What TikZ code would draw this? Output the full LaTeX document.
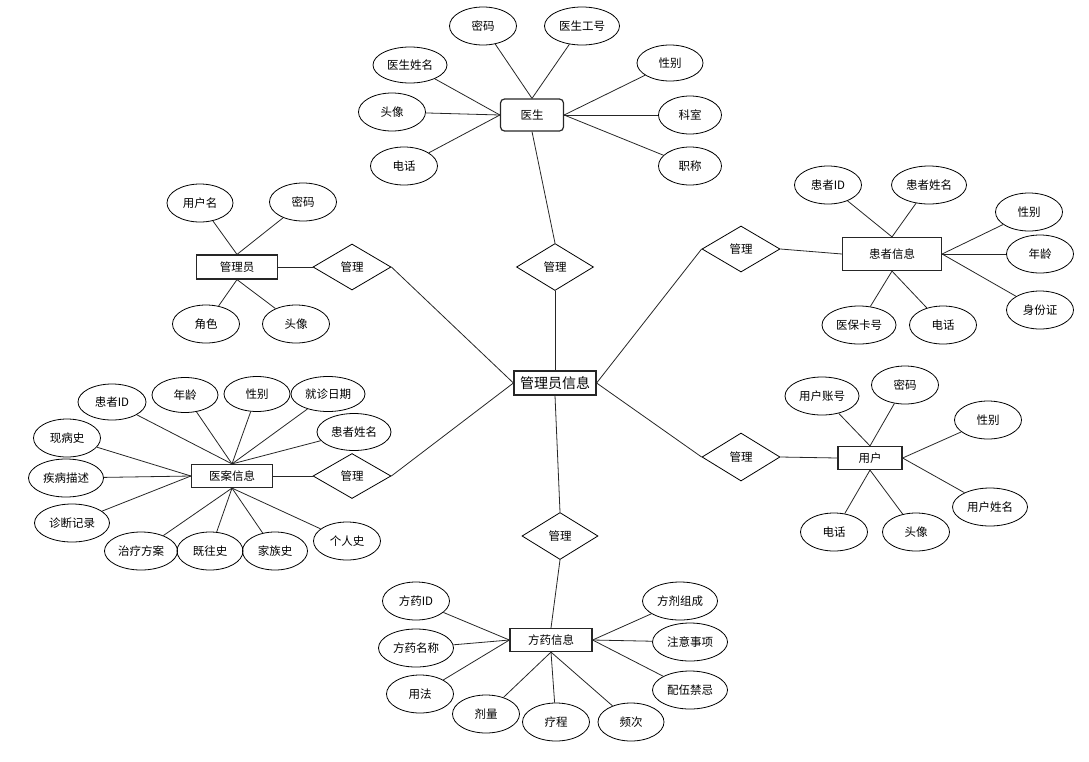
\documentclass[tikz,border=0pt]{standalone}
\usepackage{fontspec}
\setmainfont{Noto Sans CJK SC}
\usetikzlibrary{shapes.geometric}
\tikzset{
  attr/.style={draw, ellipse, line width=0.8pt, inner sep=0pt, minimum width=67pt, minimum height=38pt, font=\fontsize{11.5}{13}\selectfont},
  wattr/.style={attr, minimum width=75pt},
  entity/.style={draw=black!85, line width=1.2pt, inner sep=0pt, minimum width=81pt, minimum height=24pt, font=\fontsize{11.5}{13}\selectfont},
  rel/.style={draw, line width=0.8pt, diamond, inner sep=0pt, minimum width=78pt, minimum height=47pt, font=\fontsize{11.5}{13}\selectfont},
  link/.style={draw, line width=0.8pt, black!85}
}

\begin{document}
\begin{tikzpicture}[x=1pt, y=-1pt]
  \useasboundingbox (0,0) rectangle (1089,761);

  % centre
  \node[entity, minimum width=82pt, font=\fontsize{14}{16}\selectfont] (info) at (555,383) {管理员信息};

  % doctor
  \node[entity, rounded corners=4pt, minimum width=63pt, minimum height=32pt] (doc) at (532,115) {医生};
  \node[attr] (docpwd) at (483,26) {密码};
  \node[wattr] (docid) at (582,26) {医生工号};
  \node[wattr, minimum width=74pt, minimum height=36pt] (docname) at (410,65) {医生姓名};
  \node[attr] (docava) at (392,112) {头像};
  \node[attr] (doctel) at (404,166) {电话};
  \node[attr, minimum width=66pt, minimum height=36pt] (docsex) at (670,63) {性别};
  \node[attr, minimum width=63pt] (docdept) at (690,115) {科室};
  \node[attr, minimum width=63pt] (doctitle) at (690,166) {职称};
  \node[rel, minimum width=77pt] (reldoc) at (555,267) {管理};

  % admin
  \node[entity] (adm) at (237,267) {管理员};
  \node[attr, minimum width=66pt] (admuser) at (200,203) {用户名};
  \node[attr] (admpwd) at (303,202) {密码};
  \node[attr] (admrole) at (206,324) {角色};
  \node[attr] (admava) at (296,324) {头像};
  \node[rel, minimum height=46pt] (reladm) at (352,267) {管理};

  % patient
  \node[entity, minimum width=99pt, minimum height=33pt] (pat) at (892,254) {患者信息};
  \node[attr] (patid) at (828,185) {患者ID};
  \node[wattr] (patname) at (929,185) {患者姓名};
  \node[attr] (patsex) at (1029,212) {性别};
  \node[attr] (patage) at (1040,254) {年龄};
  \node[attr] (patcard) at (1040,310) {身份证};
  \node[wattr, minimum width=74pt] (patins) at (859,325) {医保卡号};
  \node[attr] (pattel) at (943,325) {电话};
  \node[rel, minimum height=46pt] (relpat) at (741,249) {管理};

  % user
  \node[entity, minimum width=64pt, minimum height=23pt] (usr) at (870,458) {用户};
  \node[wattr, minimum width=74pt] (usracc) at (822,396) {用户账号};
  \node[attr] (usrpwd) at (905,385) {密码};
  \node[attr] (usrsex) at (988,420) {性别};
  \node[wattr] (usrname) at (990,507) {用户姓名};
  \node[attr] (usrtel) at (834,532) {电话};
  \node[attr] (usrava) at (916,532) {头像};
  \node[rel, minimum height=48pt] (relusr) at (741,457) {管理};

  % medical record
  \node[entity, minimum height=23pt] (rec) at (232,476) {医案信息};
  \node[attr, minimum width=68pt, minimum height=36pt] (recid) at (112,402) {患者ID};
  \node[attr, minimum width=66pt, minimum height=35pt] (recage) at (185,395) {年龄};
  \node[attr, minimum width=66pt, minimum height=35pt] (recsex) at (257,394) {性别};
  \node[wattr, minimum width=74pt, minimum height=35pt] (recdate) at (328,394) {就诊日期};
  \node[wattr, minimum width=74pt, minimum height=37pt] (recname) at (354,432) {患者姓名};
  \node[attr] (recnow) at (67,438) {现病史};
  \node[wattr] (recdesc) at (66,478) {疾病描述};
  \node[wattr] (recdiag) at (72,523) {诊断记录};
  \node[wattr, minimum width=73pt] (rectreat) at (141,551) {治疗方案};
  \node[attr, minimum width=66pt] (recpast) at (210,551) {既往史};
  \node[attr, minimum width=65pt] (recfam) at (275,551) {家族史};
  \node[attr] (recself) at (347,541) {个人史};
  \node[rel, minimum height=45pt] (relrec) at (352,476) {管理};

  % prescription
  \node[entity, minimum width=82pt, minimum height=23pt] (med) at (551,640) {方药信息};
  \node[attr] (medid) at (416,601) {方药ID};
  \node[wattr] (medname) at (416,648) {方药名称};
  \node[attr] (meduse) at (420,694) {用法};
  \node[attr] (meddose) at (486,714) {剂量};
  \node[attr] (medcourse) at (556,722) {疗程};
  \node[attr, minimum width=66pt] (medfreq) at (631,722) {频次};
  \node[wattr] (medcomp) at (680,601) {方剂组成};
  \node[wattr] (mednote) at (690,642) {注意事项};
  \node[wattr] (medtaboo) at (690,690) {配伍禁忌};
  \node[rel, minimum width=76pt] (relmed) at (560,536) {管理};

  % attributes
  \foreach \a in {docpwd,docid} \draw[link] (\a) -- (doc.north);
  \foreach \a in {docname,docava,doctel} \draw[link] (\a) -- (doc.west);
  \foreach \a in {docsex,docdept,doctitle} \draw[link] (\a) -- (doc.east);
  \foreach \a in {admuser,admpwd} \draw[link] (\a) -- (adm.north);
  \foreach \a in {admrole,admava} \draw[link] (\a) -- (adm.south);
  \foreach \a in {patid,patname} \draw[link] (\a) -- (pat.north);
  \foreach \a in {patsex,patage,patcard} \draw[link] (\a) -- (pat.east);
  \foreach \a in {patins,pattel} \draw[link] (\a) -- (pat.south);
  \foreach \a in {usracc,usrpwd} \draw[link] (\a) -- (usr.north);
  \foreach \a in {usrsex,usrname} \draw[link] (\a) -- (usr.east);
  \foreach \a in {usrtel,usrava} \draw[link] (\a) -- (usr.south);
  \foreach \a in {recid,recage,recsex,recdate,recname} \draw[link] (\a) -- (rec.north);
  \foreach \a in {recnow,recdesc,recdiag} \draw[link] (\a) -- (rec.west);
  \foreach \a in {rectreat,recpast,recfam,recself} \draw[link] (\a) -- (rec.south);
  \foreach \a in {medid,medname,meduse} \draw[link] (\a) -- (med.west);
  \foreach \a in {meddose,medcourse,medfreq} \draw[link] (\a) -- (med.south);
  \foreach \a in {medcomp,mednote,medtaboo} \draw[link] (\a) -- (med.east);

  % relations
  \draw[link] (doc.south) -- (reldoc.north);
  \draw[link] (reldoc.south) -- (info.north);
  \draw[link] (adm.east) -- (reladm.west);
  \draw[link] (reladm.east) -- (info.west);
  \draw[link] (rec.east) -- (relrec.west);
  \draw[link] (relrec.east) -- (info.west);
  \draw[link] (info.east) -- (relpat.west);
  \draw[link] (relpat.east) -- (pat.west);
  \draw[link] (info.east) -- (relusr.west);
  \draw[link] (relusr.east) -- (usr.west);
  \draw[link] (info.south) -- (relmed.north);
  \draw[link] (relmed.south) -- (med.north);
\end{tikzpicture}
\end{document}
